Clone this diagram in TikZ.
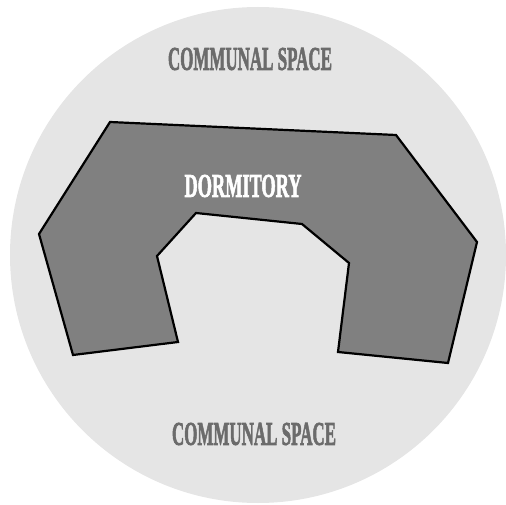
\documentclass[tikz,border=0pt]{standalone}
\usepackage{fontspec}
\setmainfont{Liberation Serif}
\newfontfamily\heavyfont{Liberation Serif Bold}[FakeBold=2.5]
\usepackage{graphicx}
\definecolor{spacegray}{HTML}{E5E5E5}
\definecolor{dormgray}{HTML}{808080}
\definecolor{labelgray}{HTML}{6B6B6B}
\begin{document}
\begin{tikzpicture}[x=1pt,y=-1pt,
  spacelabel/.style={text=labelgray,inner sep=0pt,font=\heavyfont},
  dormlabel/.style={text=white,inner sep=0pt,font=\heavyfont},
  dormshape/.style={fill=dormgray,draw=black,line width=2.2pt,line join=miter}]
\useasboundingbox (0,0) rectangle (506,505);
\fill[spacegray] (258,255) circle[radius=248];
\draw[dormshape] (110,122) -- (396,135) -- (477,242) -- (448,363) -- (338,352) -- (349,263) -- (302,224) -- (196,213) -- (157,256) -- (178,342) -- (73,355) -- (39,234) -- cycle;
\node[spacelabel] (top) at (250,59) {\resizebox{164pt}{22pt}{COMMUNAL SPACE}};
\node[spacelabel] (bottom) at (254,434) {\resizebox{164pt}{22pt}{COMMUNAL SPACE}};
\node[dormlabel] (dorm) at (243,186) {\resizebox{117pt}{22pt}{DORMITORY}};
\end{tikzpicture}
\end{document}
